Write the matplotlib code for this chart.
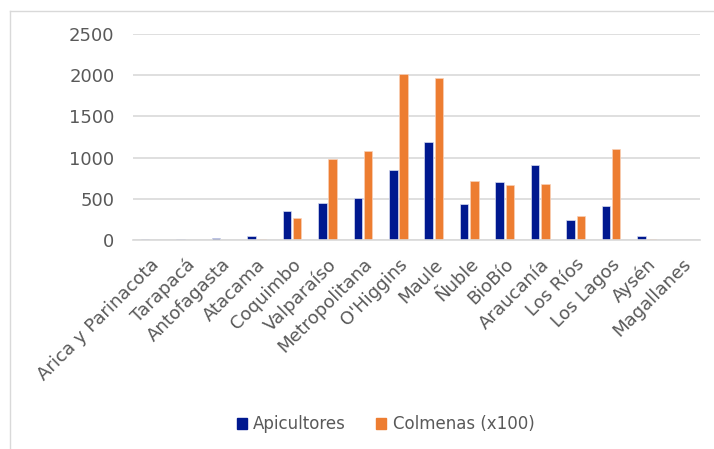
import matplotlib.pyplot as plt
from matplotlib.patches import Rectangle
from matplotlib.lines import Line2D
import numpy as np

regiones = ["Arica y Parinacota", "Tarapacá", "Antofagasta", "Atacama", "Coquimbo",
            "Valparaíso", "Metropolitana", "O'Higgins", "Maule", "Ñuble", "BioBío",
            "Araucanía", "Los Ríos", "Los Lagos", "Aysén", "Magallanes"]
apicultores = [7, 8, 20, 52, 350, 447, 505, 855, 1190, 440, 708, 910, 246, 408, 50, 0]
colmenas = [3, 5, 3, 18, 270, 985, 1082, 2015, 1962, 715, 662, 675, 294, 1102, 8, 0]

azul = '#00188f'
naranja = '#ED7D31'
gris = '#595959'

fig = plt.figure(figsize=(7.14, 4.49), dpi=100)
ax = fig.add_axes([0.1856, 0.4655, 0.7944, 0.4588])

x = np.arange(len(regiones))
ax.bar(x - 0.145, apicultores, width=0.24, color=azul, edgecolor='#d8dcf0', linewidth=0.5)
ax.bar(x + 0.145, colmenas, width=0.24, color=naranja, edgecolor='#f8d0b8', linewidth=0.5)

ax.set_xlim(-0.5, len(regiones) - 0.5)
ax.set_ylim(0, 2500)
ax.set_yticks([0, 500, 1000, 1500, 2000, 2500])
ax.yaxis.grid(True, color='#d9d9d9', linewidth=1.2)
ax.set_axisbelow(True)
for s in ['top', 'right', 'left']:
    ax.spines[s].set_visible(False)
ax.spines['bottom'].set_color('#d9d9d9')
ax.spines['bottom'].set_linewidth(1.2)
ax.tick_params(axis='both', length=0, labelsize=13, labelcolor=gris)
ax.tick_params(axis='y', pad=13)
ax.tick_params(axis='x', pad=11)
ax.set_xticks(x)
ax.set_xticklabels(regiones, rotation=45, ha='right', rotation_mode='anchor')

handles = [Rectangle((0, 0), 1, 1, color=azul), Rectangle((0, 0), 1, 1, color=naranja)]
fig.legend(handles, ['Apicultores', 'Colmenas (x100)'], loc='center',
           bbox_to_anchor=(0.54, 0.055), ncol=2, frameon=False, fontsize=12,
           labelcolor=gris, handlelength=0.6, handleheight=0.6, columnspacing=1.8,
           handletextpad=0.4)

# marco del grafico
fig.add_artist(Line2D([10/714, 10/714], [0, 1 - 11/449], transform=fig.transFigure,
                      color='#d9d9d9', linewidth=1))
fig.add_artist(Line2D([10/714, 1], [1 - 11/449, 1 - 11/449], transform=fig.transFigure,
                      color='#d9d9d9', linewidth=1))

fig.savefig('out.png', dpi=100)
